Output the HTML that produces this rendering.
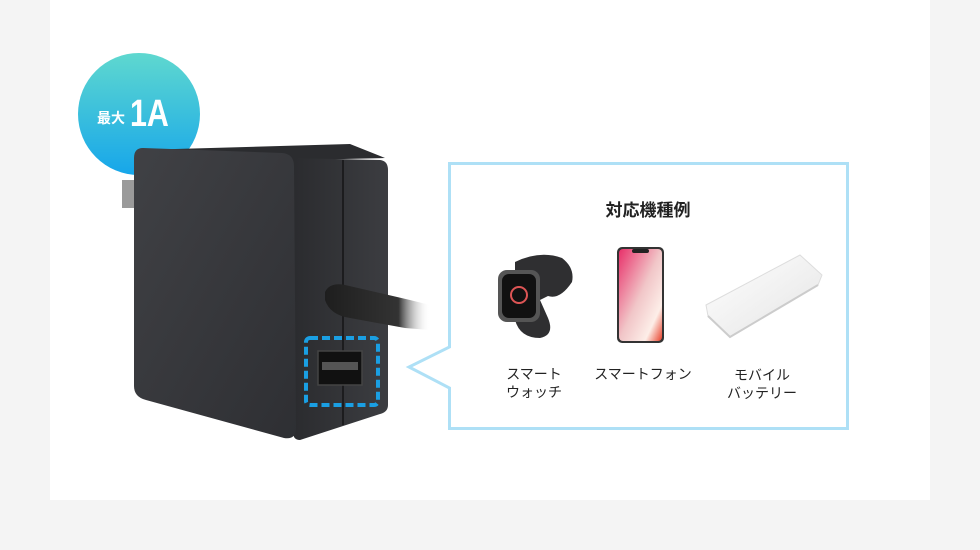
<!DOCTYPE html>
<html><head><meta charset="utf-8"><style>
html,body{margin:0;padding:0;width:980px;height:550px;background:#f4f4f4;overflow:hidden}
svg{display:block}
text{font-family:"Liberation Sans","Noto Sans CJK JP",sans-serif}
</style></head><body>
<svg width="980" height="550" viewBox="0 0 980 550">
<defs>
<linearGradient id="bg" x1="0" y1="0" x2="0" y2="1"><stop offset="0" stop-color="#5fd8cf"/><stop offset="1" stop-color="#16a6ea"/></linearGradient>
<linearGradient id="front" x1="0" y1="0" x2="1" y2="1"><stop offset="0" stop-color="#404145"/><stop offset="1" stop-color="#2e2f33"/></linearGradient>
<linearGradient id="side" x1="0" y1="0" x2="1" y2="0"><stop offset="0" stop-color="#2a2b2e"/><stop offset="1" stop-color="#3c3d41"/></linearGradient>
<linearGradient id="cable" x1="0" y1="0" x2="1" y2="0"><stop offset="0" stop-color="#1e1e1e"/><stop offset="0.7" stop-color="#333"/><stop offset="1" stop-color="#fff" stop-opacity="0"/></linearGradient>
<linearGradient id="scr" x1="0" y1="0" x2="1" y2="1"><stop offset="0" stop-color="#e8306a"/><stop offset="0.5" stop-color="#f1c6c8"/><stop offset="0.8" stop-color="#fdeee8"/><stop offset="1" stop-color="#e8402a"/></linearGradient>
<linearGradient id="bat" x1="0" y1="0" x2="1" y2="1"><stop offset="0" stop-color="#ffffff"/><stop offset="1" stop-color="#e4e4e4"/></linearGradient>
</defs>
<rect x="50" y="0" width="880" height="500" fill="#fff"/>
<!-- badge -->
<circle cx="139" cy="114" r="61" fill="url(#bg)"/>
<text x="97" y="123" font-size="14" font-weight="bold" fill="#fff">最大</text>
<text x="130" y="126" font-size="38" font-weight="bold" fill="#fff" transform="translate(130 0) scale(0.8 1) translate(-130 0)">1A</text>
<!-- charger -->
<rect x="122" y="180" width="14" height="28" fill="#9a9a9a"/>
<path d="M140 150 L350 144 L385 158 L300 160 Z" fill="#2b2c2f"/>
<path d="M290 158 L380 160 Q388 161 388 170 L388 405 Q388 412 380 414 L300 440 Q293 440 293 432 Z" fill="url(#side)"/>
<line x1="343" y1="160" x2="343" y2="425" stroke="#1c1c1e" stroke-width="2"/>
<path d="M143 148 L282 153 Q294 154 294 166 L296 428 Q296 440 284 438 L146 400 Q134 397 134 386 L134 158 Q134 148 143 148 Z" fill="url(#front)"/>
<path d="M325 292 Q330 282 345 285 L410 300 L430 305 L430 330 L405 328 L350 318 Q330 315 325 300 Z" fill="url(#cable)"/>
<rect x="318" y="351" width="44" height="34" fill="#111" stroke="#444" stroke-width="1.5"/>
<rect x="322" y="362" width="36" height="8" fill="#555"/>
<rect x="306" y="338" width="72" height="67" rx="4" fill="none" stroke="#1a9fe3" stroke-width="4" stroke-dasharray="8 4"/>
<!-- callout -->
<path d="M449.5 163.5 H847.5 V428.5 H449.5 V388 L409 367 L449.5 347 Z" fill="#fff" stroke="#aee0f6" stroke-width="3"/>
<text x="648" y="216" font-size="17" font-weight="bold" fill="#222" text-anchor="middle">対応機種例</text>
<!-- watch -->
<path d="M515 262 Q540 250 562 258 Q575 268 572 282 Q560 300 548 296 L540 300 L548 318 Q555 335 540 338 Q520 338 515 320 Z" fill="#2f2f31"/>
<rect x="498" y="270" width="42" height="52" rx="9" fill="#555"/>
<rect x="502" y="274" width="34" height="44" rx="7" fill="#111"/>
<circle cx="519" cy="295" r="8" fill="none" stroke="#d55" stroke-width="2"/>
<!-- phone -->
<rect x="617" y="247" width="47" height="96" rx="5" fill="#333"/>
<rect x="619" y="249" width="43" height="92" rx="4" fill="url(#scr)"/>
<rect x="632" y="249" width="17" height="4" rx="2" fill="#222"/>
<!-- battery -->
<path d="M706 305 L800 255 L822 275 L818 285 L730 337 L708 316 Z" fill="url(#bat)" stroke="#ddd" stroke-width="1"/>
<path d="M708 316 L730 337 L818 285" fill="none" stroke="#ccc" stroke-width="2"/>
<g font-size="14" fill="#222" text-anchor="middle">
<text x="534" y="379">スマート</text><text x="534" y="397">ウォッチ</text>
<text x="643" y="379">スマートフォン</text>
<text x="762" y="380">モバイル</text><text x="762" y="398">バッテリー</text>
</g>
</svg>
</body></html>
